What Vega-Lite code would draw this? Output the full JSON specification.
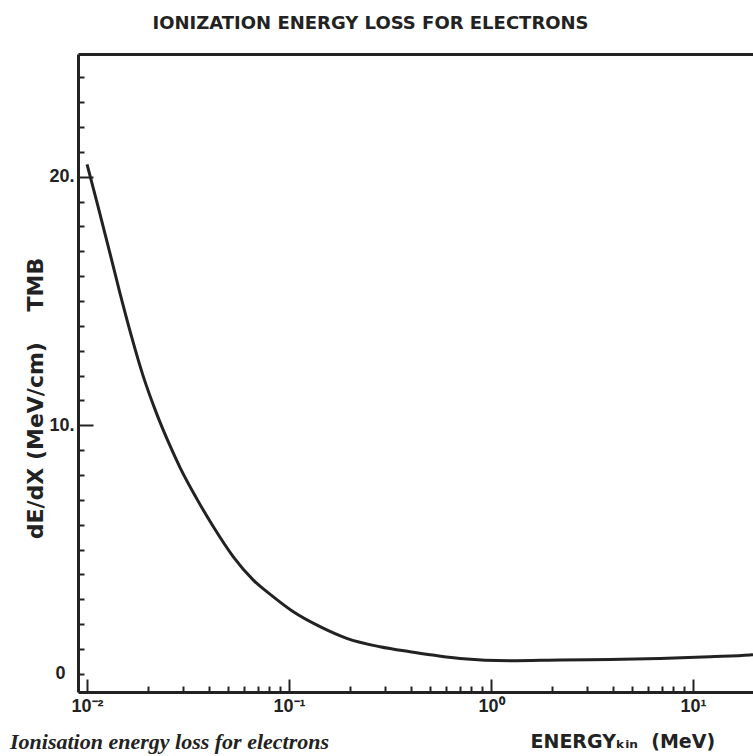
{
  "$schema": "https://vega.github.io/schema/vega-lite/v6.json",
  "width": 675,
  "height": 638,
  "autosize": "none",
  "padding": {"left": 78, "top": 54, "right": 0, "bottom": 64},
  "background": "white",
  "config": {"view": {"stroke": null}},
  "title": {
    "text": "Ionisation energy loss for electrons",
    "orient": "bottom",
    "anchor": "start",
    "frame": "group",
    "baseline": "alphabetic",
    "dx": -68,
    "offset": -2,
    "font": "Liberation Serif",
    "fontStyle": "italic",
    "fontWeight": "bold",
    "fontSize": 22,
    "color": "#222222"
  },
  "data": {
    "values": [
      {"E": 0.01, "dEdx": 20.5},
      {"E": 0.01134, "dEdx": 18.8},
      {"E": 0.01296, "dEdx": 16.95},
      {"E": 0.01452, "dEdx": 15.35},
      {"E": 0.01657, "dEdx": 13.6},
      {"E": 0.01893, "dEdx": 12.0},
      {"E": 0.02203, "dEdx": 10.5},
      {"E": 0.02567, "dEdx": 9.2},
      {"E": 0.02887, "dEdx": 8.3},
      {"E": 0.0349, "dEdx": 7.05},
      {"E": 0.0422, "dEdx": 5.92},
      {"E": 0.05299, "dEdx": 4.71},
      {"E": 0.06657, "dEdx": 3.77},
      {"E": 0.08363, "dEdx": 3.1},
      {"E": 0.105, "dEdx": 2.5},
      {"E": 0.1424, "dEdx": 1.9},
      {"E": 0.193, "dEdx": 1.43},
      {"E": 0.2821, "dEdx": 1.09},
      {"E": 0.397, "dEdx": 0.89},
      {"E": 0.702, "dEdx": 0.62},
      {"E": 1.24, "dEdx": 0.53},
      {"E": 2.196, "dEdx": 0.56},
      {"E": 3.88, "dEdx": 0.58},
      {"E": 6.87, "dEdx": 0.62},
      {"E": 12.13, "dEdx": 0.69},
      {"E": 19.14, "dEdx": 0.76},
      {"E": 19.8, "dEdx": 0.77}
    ]
  },
  "encoding": {
    "y": {
      "field": "dEdx",
      "type": "quantitative",
      "scale": {"domain": [-0.73, 24.94], "nice": false, "zero": false},
      "axis": {
        "values": [0, 1, 2, 3, 4, 5, 6, 7, 8, 9, 10, 11, 12, 13, 14, 15, 16, 17, 18, 19, 20, 21, 22, 23, 24],
        "labelExpr": "datum.value == 0 ? '0' : datum.value == 10 ? '10.' : datum.value == 20 ? '20.' : ''",
        "grid": false,
        "domainColor": "#222222",
        "domainWidth": 3,
        "tickColor": "#222222",
        "tickWidth": 2,
        "tickSize": {"condition": {"test": "datum.value == 10 || datum.value == 20", "value": -15}, "value": -6},
        "labelFont": "Liberation Sans",
        "labelFontWeight": "bold",
        "labelFontSize": 18,
        "labelColor": "#222222",
        "labelPadding": 19,
        "labelOverlap": false,
        "labelBound": false,
        "labelFlush": false,
        "title": "dE/dX (MeV/cm)\u00a0\u00a0\u00a0\u00a0TMB",
        "titleFont": "DejaVu Sans",
        "titleFontWeight": "bold",
        "titleFontSize": 22,
        "titleColor": "#222222",
        "titleAngle": -90,
        "titleAlign": "center",
        "titleBaseline": "middle",
        "titleX": -43,
        "titleY": 344
      }
    }
  },
  "layer": [
    {
      "mark": {"type": "line", "interpolate": "monotone", "color": "#222222", "strokeWidth": 3},
      "encoding": {
        "x": {
          "field": "E",
          "type": "quantitative",
          "scale": {"type": "log", "domain": [0.00902, 19.8], "nice": false},
          "axis": {
            "orient": "bottom",
            "values": [0.01, 0.02, 0.03, 0.04, 0.05, 0.06, 0.07, 0.08, 0.09, 0.1, 0.2, 0.3, 0.4, 0.5, 0.6, 0.7, 0.8, 0.9, 1, 2, 3, 4, 5, 6, 7, 8, 9, 10],
            "labelExpr": "datum.value == 0.01 ? '10⁻²' : datum.value == 0.1 ? '10⁻¹' : datum.value == 1 ? '10⁰' : datum.value == 10 ? '10¹' : ''",
            "grid": false,
            "domainColor": "#222222",
            "domainWidth": 3,
            "tickColor": "#222222",
            "tickWidth": 2,
            "tickSize": {"condition": {"test": "datum.value == 0.01 || datum.value == 0.1 || datum.value == 1 || datum.value == 10", "value": -13}, "value": -6},
            "labelFont": "Liberation Sans",
            "labelFontWeight": "bold",
            "labelFontSize": 18,
            "labelColor": "#222222",
            "labelPadding": 18,
            "labelOverlap": false,
            "labelBound": false,
            "labelFlush": false,
            "title": "ENERGYₖᵢₙ\u00a0\u00a0(MeV)",
            "titleFont": "DejaVu Sans",
            "titleFontWeight": "bold",
            "titleFontSize": 19,
            "titleColor": "#222222",
            "titleAlign": "left",
            "titleBaseline": "alphabetic",
            "titleX": 452,
            "titleY": 55
          }
        }
      }
    },
    {
      "mark": {"type": "line", "interpolate": "monotone", "opacity": 0},
      "encoding": {
        "x": {
          "field": "E",
          "type": "quantitative",
          "axis": {
            "orient": "top",
            "labels": false,
            "ticks": false,
            "grid": false,
            "domainColor": "#222222",
            "domainWidth": 3,
            "title": "IONIZATION ENERGY LOSS FOR ELECTRONS",
            "titleFont": "DejaVu Sans",
            "titleFontWeight": "bold",
            "titleFontSize": 18,
            "titleColor": "#222222",
            "titleAlign": "center",
            "titleBaseline": "alphabetic",
            "titleX": 292,
            "titleY": -26
          }
        }
      }
    }
  ],
  "resolve": {"axis": {"x": "independent"}}
}
